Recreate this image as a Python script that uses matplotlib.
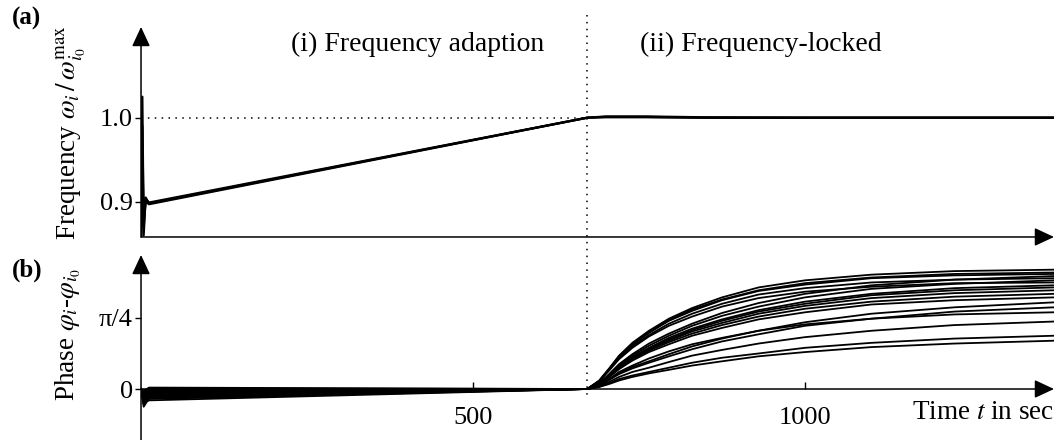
import matplotlib
matplotlib.use("Agg")
import matplotlib.pyplot as plt
from matplotlib.lines import Line2D
from matplotlib.transforms import blended_transform_factory

plt.rcParams['font.family'] = ['Liberation Serif', 'DejaVu Serif']
plt.rcParams['mathtext.fontset'] = 'stix'
plt.rcParams['font.size'] = 19

# ---- data ----
t_lock = 672  # end of frequency adaption (sec)

# (a) normalised frequency, a few agents (they overlap almost completely)
freq_t = [0, 2, 4, 7, 12, 672, 700, 760, 850, 1000, 1375]
freq_a = [0.85, 1.025, 0.86, 0.905, 0.898, 1.0, 1.0015, 1.0015, 1.0005, 1.0, 1.0]
freq_b = [0.85, 0.99, 0.87, 0.903, 0.899, 1.0, 1.001, 1.001, 1.0, 1.0, 1.0]
freq_c = [0.85, 0.95, 0.88, 0.90, 0.897, 1.0, 1.0005, 1.0005, 1.0, 1.0, 1.0]

# (b) phase difference in units of pi/4
phase_t = [0, 4, 12,
           672, 690, 705, 720, 740, 765, 795, 830, 875, 930, 1000, 1100, 1225, 1375]
phase_curves = [
    [0, -0.20, -0.16, 0, .12, .29, .47, .65, .82, .99, 1.14, 1.29, 1.43, 1.53, 1.61, 1.66, 1.68],
    [0, -0.18, -0.14, 0, .11, .28, .46, .63, .80, .97, 1.12, 1.26, 1.39, 1.49, 1.57, 1.62, 1.64],
    [0, -0.22, -0.12, 0, .11, .28, .45, .62, .79, .96, 1.10, 1.25, 1.38, 1.47, 1.56, 1.60, 1.62],
    [0, -0.15, -0.10, 0, .08, .21, .35, .49, .64, .78, .92, 1.07, 1.21, 1.34, 1.46, 1.54, 1.59],
    [0, -0.25, -0.13, 0, .11, .27, .44, .60, .76, .92, 1.06, 1.20, 1.33, 1.42, 1.50, 1.54, 1.56],
    [0, -0.12, -0.08, 0, .08, .20, .34, .47, .61, .75, .89, 1.03, 1.16, 1.29, 1.41, 1.48, 1.53],
    [0, -0.17, -0.11, 0, .11, .26, .42, .58, .74, .89, 1.02, 1.16, 1.28, 1.37, 1.44, 1.49, 1.50],
    [0, -0.10, -0.06, 0, .07, .19, .32, .45, .58, .72, .85, .98, 1.11, 1.23, 1.34, 1.42, 1.46],
    [0, -0.14, -0.09, 0, .07, .19, .31, .44, .57, .70, .83, .96, 1.09, 1.20, 1.32, 1.39, 1.43],
    [0, -0.08, -0.05, 0, .07, .18, .31, .43, .56, .68, .81, .93, 1.06, 1.17, 1.28, 1.35, 1.39],
    [0, -0.12, -0.07, 0, .07, .17, .29, .42, .54, .66, .78, .90, 1.02, 1.13, 1.23, 1.30, 1.34],
    [0, -0.06, -0.03, 0, .06, .17, .28, .40, .52, .63, .75, .86, .98, 1.08, 1.19, 1.25, 1.29],
    [0, -0.09, -0.04, 0, .05, .13, .22, .31, .39, .49, .60, .71, .82, .94, 1.06, 1.15, 1.22],
    [0, -0.05, -0.02, 0, .05, .13, .21, .29, .37, .46, .56, .67, .77, .89, .99, 1.09, 1.15],
    [0, -0.07, -0.01, 0, .05, .14, .24, .33, .43, .53, .63, .72, .82, .91, .99, 1.05, 1.08],
    [0, -0.04, 0.01, 0, .04, .10, .17, .24, .30, .38, .47, .55, .64, .73, .82, .90, .95],
    [0, -0.03, 0.02, 0, .03, .08, .14, .19, .24, .30, .37, .44, .50, .58, .65, .71, .75],
    [0, -0.02, 0.00, 0, .03, .07, .12, .17, .22, .27, .33, .39, .46, .52, .59, .64, .68],
]

fig = plt.figure(figsize=(10.54, 4.4), dpi=100)
ax1 = fig.add_axes([0.1338, 0.4614, 0.8662, 0.4773])
ax2 = fig.add_axes([0.1338, 0.0, 0.8662, 0.4205])

lw_axis = 1.1
arrow = dict(arrowstyle='-|>,head_length=0.6,head_width=0.28', color='k',
             lw=lw_axis, shrinkA=0, shrinkB=0, mutation_scale=20)

# ---- (a) frequency ----
for f in (freq_c, freq_b, freq_a):
    ax1.plot(freq_t, f, color='k', lw=1.6)
ax1.plot([0, t_lock], [1.0, 1.0], color='k', lw=1.1, ls=(0, (1, 3.5)))
ax1.set_xlim(0, 1375)
ax1.set_ylim(0.858, 1.108)
for s in ax1.spines.values():
    s.set_visible(False)
ax1.set_xticks([])
ax1.set_yticks([0.9, 1.0], ['0.9', '1.0'])
ax1.tick_params(axis='y', direction='out', length=4, width=1, pad=2)
ax1.annotate('', xy=(0, 1), xytext=(0, 0), xycoords='axes fraction', arrowprops=arrow)
ax1.annotate('', xy=(1, 0), xytext=(0, 0), xycoords='axes fraction', arrowprops=arrow)
ax1.set_ylabel(r'Frequency $\omega_i\,/\,\omega_{i_0}^{\mathrm{max}}$', fontsize=19.5)
ax1.yaxis.set_label_coords(-0.058, 0.5)
ax1.text(417, 1.087, '(i) Frequency adaption', ha='center', va='center', fontsize=20)
ax1.text(751, 1.087, '(ii) Frequency-locked', ha='left', va='center', fontsize=20)

# ---- (b) phase ----
for c in phase_curves:
    ax2.plot(phase_t, c, color='k', lw=1.3)
ax2.set_xlim(0, 1375)
ax2.set_ylim(-0.718, 1.887)
for s in ax2.spines.values():
    s.set_visible(False)
ax2.spines['bottom'].set_position(('data', 0))
ax2.set_xticks([500, 1000], ['500', '1000'])
ax2.tick_params(axis='x', direction='in', length=5, width=1, pad=13)
ax2.set_yticks([0, 1], ['0', 'π/4'])
ax2.tick_params(axis='y', direction='out', length=4, width=1, pad=2)
ax2.annotate('', xy=(0, 1), xytext=(0, 0), xycoords='axes fraction', arrowprops=arrow)
xy_tr = blended_transform_factory(ax2.transAxes, ax2.transData)
ax2.annotate('', xy=(1, 0), xytext=(0, 0), xycoords=xy_tr, arrowprops=arrow)
ax2.set_ylabel(r'Phase $\varphi_i$-$\varphi_{i_0}$', fontsize=19.5)
ax2.yaxis.set_label_coords(-0.064, 0.568)
ax2.text(1.0, -0.33, r'Time $t$ in sec', transform=xy_tr, ha='right', va='center', fontsize=19.5)

# vertical dotted separator through both panels
sep_tr = blended_transform_factory(ax1.transData, fig.transFigure)
fig.add_artist(Line2D([t_lock, t_lock], [0.966, 0.091], transform=sep_tr,
                      color='k', lw=1.1, ls=(0, (1, 3.5))))

fig.text(0.011, 0.958, '(a)', fontweight='bold', va='center', fontsize=18)
fig.text(0.011, 0.385, '(b)', fontweight='bold', va='center', fontsize=18)

fig.savefig('out.png', dpi=100)
